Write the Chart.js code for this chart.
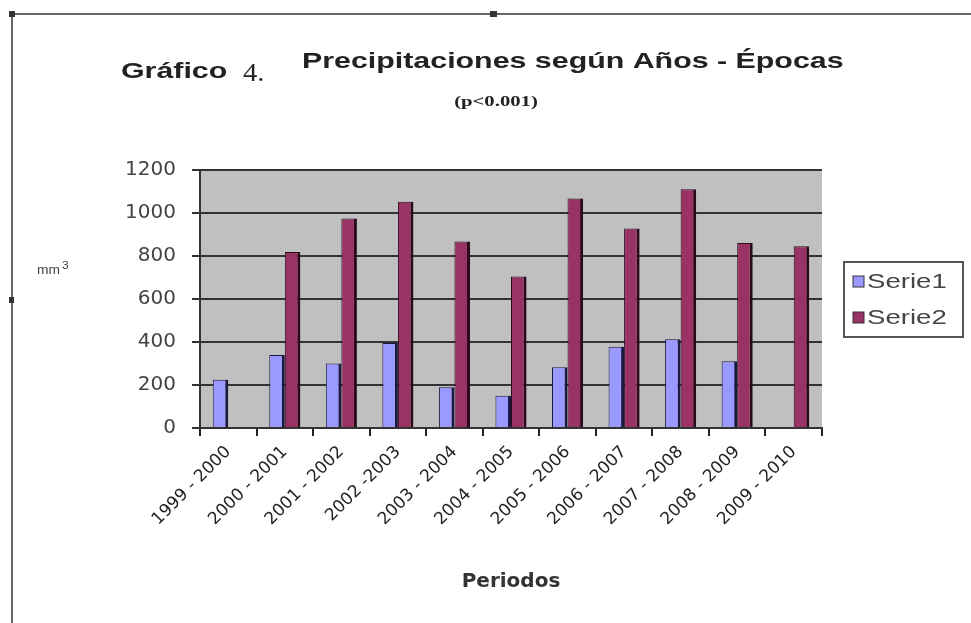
<!DOCTYPE html>
<html>
<head>
<meta charset="utf-8">
<script src="https://cdn.jsdelivr.net/npm/chart.js@4/dist/chart.umd.min.js"></script>
<style>
  body { margin: 0; background: #fff; }
  #wrap { width: 971px; height: 623px; }
</style>
</head>
<body>
<div id="wrap"><canvas id="rainChart" width="971" height="623"></canvas></div>
<script>
// ─────────────────────────────────────
// DATA
// ─────────────────────────────────────

const periods = [
    "1999 - 2000", "2000 - 2001", "2001 - 2002", "2002 -2003",
    "2003 - 2004", "2004 - 2005", "2005 - 2006", "2006 - 2007",
    "2007 - 2008", "2008 - 2009", "2009 - 2010"
];

const serie1 = [225, 340, 300, 395, 190, 150, 282, 378, 413, 311, null];
const serie2 = [null, 819, 974, 1052, 868, 705, 1068, 928, 1110, 861, 845];

const yTicks = [0, 200, 400, 600, 800, 1000, 1200];

const FONT = "'Liberation Sans', Arial, sans-serif";
const WIDE = "'DejaVu Sans', sans-serif";

// the source picture is stretched sideways, so text drawn here is too
const STRETCH = 1.38;


// ─────────────────────────────────────
// EXTRA DRAWING (titles, frame, legend)
// ─────────────────────────────────────

function wideText(ctx, text, x, y, font, align, sx) {
    ctx.save();
    ctx.font = font;
    ctx.textAlign = align || "left";
    ctx.textBaseline = "middle";
    ctx.translate(x, y);
    ctx.scale(sx || STRETCH, 1);
    ctx.fillText(text, 0, 0);
    ctx.restore();
}

const decorPlugin = {
    id: "decor",

    beforeDraw(chart) {
        const { ctx, chartArea: a } = chart;
        ctx.save();
        // grey plot background
        ctx.fillStyle = "#c0c0c0";
        ctx.fillRect(a.left, a.top, a.right - a.left, a.bottom - a.top);
        ctx.restore();
    },

    afterDraw(chart) {
        const ctx = chart.ctx;
        ctx.save();

        // frame of the embedded object
        ctx.strokeStyle = "#666";
        ctx.lineWidth = 2;
        ctx.beginPath();
        ctx.moveTo(12, 623);
        ctx.lineTo(12, 14);
        ctx.lineTo(971, 14);
        ctx.stroke();
        ctx.fillStyle = "#333";
        ctx.fillRect(9, 11, 6, 6);
        ctx.fillRect(490, 11, 7, 6);
        ctx.fillRect(9, 297, 5, 6);

        // titles
        ctx.fillStyle = "#222";
        wideText(ctx, "Gráfico", 121, 72, "bold 22px " + FONT);
        wideText(ctx, "4.", 243, 74, "26px 'Liberation Serif', serif", "left", 1.1);
        wideText(ctx, "Precipitaciones según Años - Épocas", 302, 62, "bold 22px " + FONT);
        wideText(ctx, "(p<0.001)", 496, 102, "bold 15px 'Liberation Serif', serif", "center");

        // y axis unit
        ctx.fillStyle = "#444";
        wideText(ctx, "mm", 37, 271, "12px " + FONT, "left", 1.15);
        wideText(ctx, "3", 62, 266, "11px " + FONT, "left", 1.1);

        // legend
        ctx.strokeStyle = "#555";
        ctx.lineWidth = 2;
        ctx.strokeRect(844, 262, 119, 75);
        chart.data.datasets.forEach((ds, i) => {
            const y = 282 + i * 36;
            ctx.fillStyle = ds.backgroundColor;
            ctx.fillRect(853, y - 6, 11, 11);
            ctx.strokeStyle = "#333";
            ctx.lineWidth = 1;
            ctx.strokeRect(853, y - 6, 11, 11);
            ctx.fillStyle = "#444";
            wideText(ctx, ds.label, 867, y, "20px " + FONT);
        });

        ctx.restore();
    }
};


// ─────────────────────────────────────
// BAR CHART
// ─────────────────────────────────────

new Chart(document.getElementById("rainChart"), {

    type: "bar",

    data: {
        labels: periods,
        datasets: [
            {
                label: "Serie1",
                data: serie1,
                backgroundColor: "#9999ff",
                borderColor: "#1a1a40",
                borderWidth: { left: 1, top: 1, right: 3, bottom: 0 },
                borderSkipped: false
            },
            {
                label: "Serie2",
                data: serie2,
                backgroundColor: "#993366",
                borderColor: "#2a0a1a",
                borderWidth: { left: 1, top: 1, right: 3, bottom: 0 },
                borderSkipped: false
            }
        ]
    },

    options: {
        responsive: false,
        animation: false,
        categoryPercentage: 0.55,
        barPercentage: 1,

        layout: {
            padding: { left: 12, right: 149, top: 170, bottom: 25 }
        },

        plugins: {
            legend: { display: false },
            title: { display: false },
            tooltip: { enabled: false }
        },

        scales: {
            x: {
                grid: {
                    drawOnChartArea: false,
                    color: "#222",
                    tickLength: 8,
                    lineWidth: 2
                },
                border: { color: "#333", width: 2 },
                ticks: {
                    autoSkip: false,
                    minRotation: 45,
                    maxRotation: 45,
                    color: "#222",
                    padding: 6,
                    font: { family: WIDE, size: 17 }
                },
                title: {
                    display: true,
                    text: "Periodos",
                    color: "#333",
                    font: { family: WIDE, size: 20, weight: "bold" },
                    padding: { top: 0, bottom: 4 }
                },
                afterFit: s => { s.height = 170; }
            },
            y: {
                min: 0,
                max: 1200,
                afterBuildTicks: s => { s.ticks = yTicks.map(v => ({ value: v })); },
                grid: {
                    color: "#333",
                    lineWidth: 2,
                    tickLength: 8
                },
                border: { color: "#333", width: 2 },
                ticks: {
                    color: "#444",
                    padding: 16,
                    font: { family: WIDE, size: 20 },
                    callback: v => String(v)
                },
                afterFit: s => { s.width = 188; }
            }
        }
    },

    plugins: [decorPlugin]
});
</script>
</body>
</html>
